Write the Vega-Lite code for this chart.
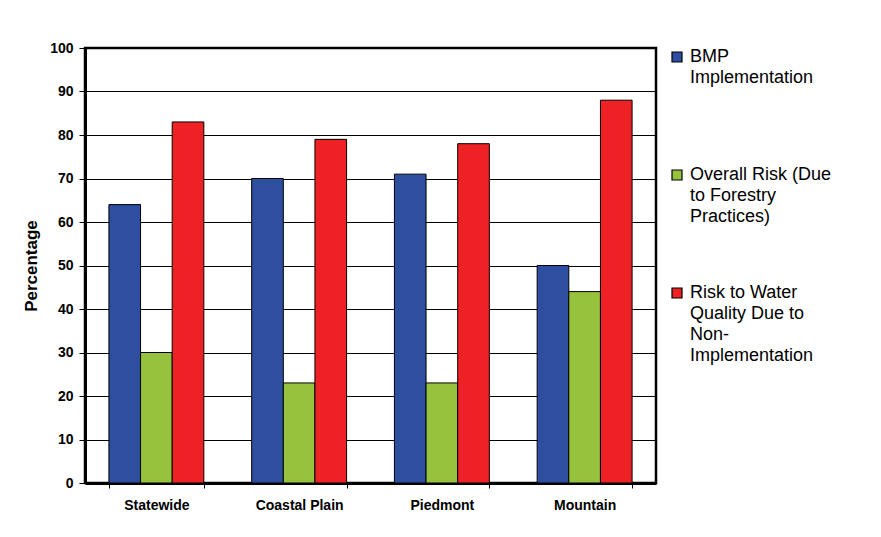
{
  "$schema": "https://vega.github.io/schema/vega-lite/v6.json",
  "width": 571,
  "height": 435,
  "autosize": {"type": "none"},
  "padding": {"left": 85, "top": 48, "right": 225, "bottom": 54},
  "background": "white",
  "data": {
    "values": [
      {"region": "Statewide", "series": "BMP Implementation", "value": 64},
      {"region": "Statewide", "series": "Overall Risk (Due to Forestry Practices)", "value": 30},
      {"region": "Statewide", "series": "Risk to Water Quality Due to Non-Implementation", "value": 83},
      {"region": "Coastal Plain", "series": "BMP Implementation", "value": 70},
      {"region": "Coastal Plain", "series": "Overall Risk (Due to Forestry Practices)", "value": 23},
      {"region": "Coastal Plain", "series": "Risk to Water Quality Due to Non-Implementation", "value": 79},
      {"region": "Piedmont", "series": "BMP Implementation", "value": 71},
      {"region": "Piedmont", "series": "Overall Risk (Due to Forestry Practices)", "value": 23},
      {"region": "Piedmont", "series": "Risk to Water Quality Due to Non-Implementation", "value": 78},
      {"region": "Mountain", "series": "BMP Implementation", "value": 50},
      {"region": "Mountain", "series": "Overall Risk (Due to Forestry Practices)", "value": 44},
      {"region": "Mountain", "series": "Risk to Water Quality Due to Non-Implementation", "value": 88}
    ]
  },
  "mark": {"type": "bar", "stroke": "black", "strokeWidth": 1},
  "encoding": {
    "x": {
      "field": "region",
      "type": "nominal",
      "sort": ["Statewide", "Coastal Plain", "Piedmont", "Mountain"],
      "scale": {"paddingInner": 0.335, "paddingOuter": 0.1675},
      "axis": {
        "title": null,
        "labelAngle": 0,
        "labelFont": "Liberation Sans",
        "labelFontWeight": "bold",
        "labelFontSize": 14,
        "labelColor": "black",
        "labelPadding": 10,
        "tickBand": "extent",
        "tickSize": 5,
        "tickColor": "black",
        "domainColor": "black",
        "domainWidth": 3,
        "grid": false
      }
    },
    "xOffset": {
      "field": "series",
      "type": "nominal",
      "sort": ["BMP Implementation", "Overall Risk (Due to Forestry Practices)", "Risk to Water Quality Due to Non-Implementation"],
      "scale": {"paddingInner": 0, "paddingOuter": 0}
    },
    "y": {
      "field": "value",
      "type": "quantitative",
      "scale": {"domain": [0, 100], "nice": false},
      "axis": {
        "title": "Percentage",
        "titleFont": "Liberation Sans",
        "titleFontSize": 17,
        "titleFontWeight": "bold",
        "titleColor": "black",
        "titlePadding": 9,
        "values": [0, 10, 20, 30, 40, 50, 60, 70, 80, 90, 100],
        "labelFont": "Liberation Sans",
        "labelFontWeight": "bold",
        "labelFontSize": 14,
        "labelColor": "black",
        "labelPadding": 6,
        "tickSize": 6,
        "tickColor": "black",
        "domainColor": "black",
        "domainWidth": 3,
        "grid": true,
        "gridColor": "black",
        "gridWidth": 1
      }
    },
    "color": {
      "field": "series",
      "type": "nominal",
      "sort": ["BMP Implementation", "Overall Risk (Due to Forestry Practices)", "Risk to Water Quality Due to Non-Implementation"],
      "scale": {"range": ["#2E4EA0", "#96C23E", "#EE2224"]},
      "legend": {
        "title": null,
        "orient": "none",
        "legendX": 583,
        "legendY": 0,
        "symbolType": "square",
        "symbolSize": 100,
        "symbolStrokeColor": "black",
        "symbolStrokeWidth": 1.2,
        "symbolOpacity": 1,
        "labelFont": "Liberation Sans",
        "labelFontSize": 18,
        "labelColor": "black",
        "labelLimit": 0,
        "labelOffset": 4,
        "labelBaseline": "top",
        "rowPadding": 37,
        "labelExpr": "datum.label == 'BMP Implementation' ? ['BMP', 'Implementation', ' ', ' '] : datum.label == 'Overall Risk (Due to Forestry Practices)' ? ['Overall Risk (Due', 'to Forestry', 'Practices)', ' '] : ['Risk to Water', 'Quality Due to', 'Non-', 'Implementation']",
        "encode": {"labels": {"update": {"lineHeight": {"value": 21}, "dy": {"value": -9}}}}
      }
    }
  },
  "config": {
    "view": {"stroke": "black", "strokeWidth": 2.5}
  }
}
